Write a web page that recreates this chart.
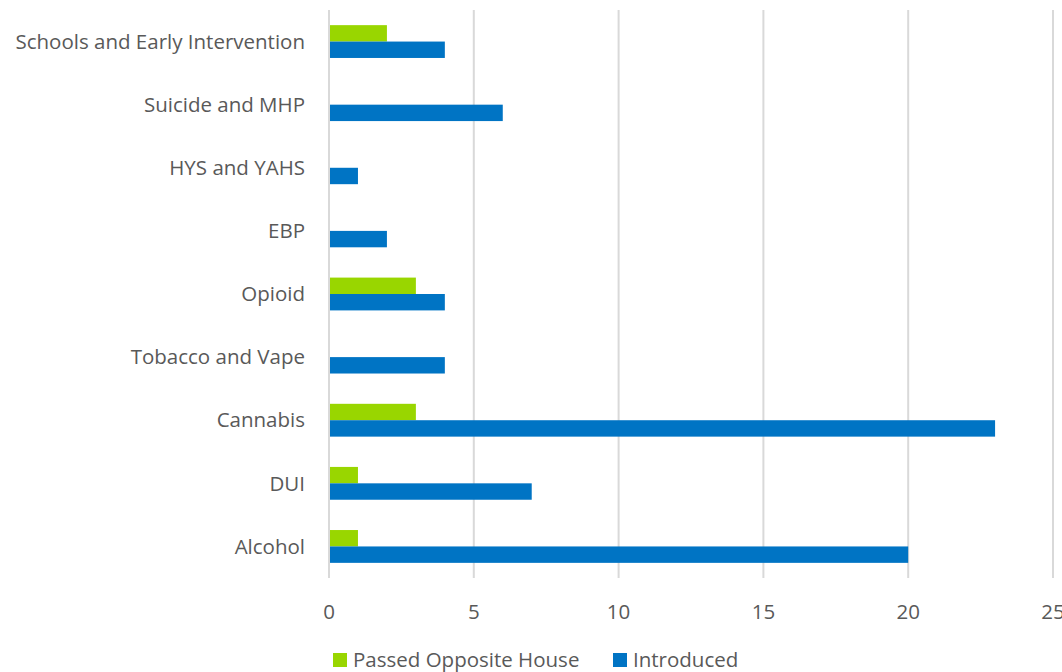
<!DOCTYPE html>
<html>
<head>
<meta charset="utf-8">
<script src="https://cdn.jsdelivr.net/npm/d3@7"></script>
<style>
  body { margin: 0; background: #fff; }
  text { font-family: "Open Sans", sans-serif; fill: #595959; }
</style>
</head>
<body>
<div id="chart"></div>
<script>
const categories = [
  "Schools and Early Intervention",
  "Suicide and MHP",
  "HYS and YAHS",
  "EBP",
  "Opioid",
  "Tobacco and Vape",
  "Cannabis",
  "DUI",
  "Alcohol",
];
const passed = [2, 0, 0, 0, 3, 0, 3, 1, 1];
const introduced = [4, 6, 1, 2, 4, 4, 23, 7, 20];
const seriesNames = ["Passed Opposite House", "Introduced"];
const seriesColors = ["#99D600", "#0074C4"];
const xTicks = [0, 5, 10, 15, 20, 25];

const width = 1062;
const height = 672;
const margin = { top: 10, right: 9, bottom: 94, left: 329 };
const fontSize = "20.5px";

const svg = d3
  .select("#chart")
  .append("svg")
  .attr("width", width)
  .attr("height", height);

const x = d3
  .scaleLinear()
  .domain([0, 25])
  .range([margin.left, width - margin.right]);

const y = d3
  .scaleBand()
  .domain(categories)
  .range([margin.top, height - margin.bottom])
  .paddingInner(0.48)
  .paddingOuter(0.24);

const sub = d3
  .scaleBand()
  .domain(seriesNames)
  .range([0, y.bandwidth()]);

// gridlines
svg
  .append("g")
  .selectAll("line")
  .data(xTicks)
  .enter()
  .append("line")
  .attr("x1", (d) => x(d))
  .attr("x2", (d) => x(d))
  .attr("y1", margin.top)
  .attr("y2", height - margin.bottom)
  .attr("stroke", "#d9d9d9")
  .attr("stroke-width", 2);

const rows = categories.map((c, i) => ({
  cat: c,
  values: [passed[i], introduced[i]],
}));

const groups = svg
  .append("g")
  .selectAll("g")
  .data(rows)
  .enter()
  .append("g")
  .attr("transform", (d) => `translate(0,${y(d.cat)})`);

groups
  .selectAll("rect")
  .data((d) => d.values.map((v, j) => ({ v, j })))
  .enter()
  .filter((d) => d.v > 0)
  .append("rect")
  .attr("x", x(0) + 1)
  .attr("y", (d) => sub(seriesNames[d.j]))
  .attr("width", (d) => x(d.v) - x(0) - 1)
  .attr("height", sub.bandwidth())
  .attr("fill", (d) => seriesColors[d.j]);

// category labels
svg
  .append("g")
  .selectAll("text")
  .data(categories)
  .enter()
  .append("text")
  .attr("x", margin.left - 24)
  .attr("y", (d) => y(d) + y.bandwidth() / 2)
  .attr("dy", "0.35em")
  .attr("text-anchor", "end")
  .style("font-size", fontSize)
  .text((d) => d);

// x tick labels
svg
  .append("g")
  .selectAll("text")
  .data(xTicks)
  .enter()
  .append("text")
  .attr("x", (d) => x(d))
  .attr("y", 612)
  .attr("dy", "0.35em")
  .attr("text-anchor", "middle")
  .style("font-size", fontSize)
  .text((d) => d);

// legend
const legendX = [333, 613];
const legend = svg
  .append("g")
  .selectAll("g")
  .data(seriesNames)
  .enter()
  .append("g")
  .attr("transform", (d, i) => `translate(${legendX[i]},660)`);

legend
  .append("rect")
  .attr("x", 0)
  .attr("y", -7)
  .attr("width", 14)
  .attr("height", 14)
  .attr("fill", (d, i) => seriesColors[i]);

legend
  .append("text")
  .attr("x", 20)
  .attr("y", 0)
  .attr("dy", "0.35em")
  .style("font-size", fontSize)
  .text((d) => d);
</script>
</body>
</html>
